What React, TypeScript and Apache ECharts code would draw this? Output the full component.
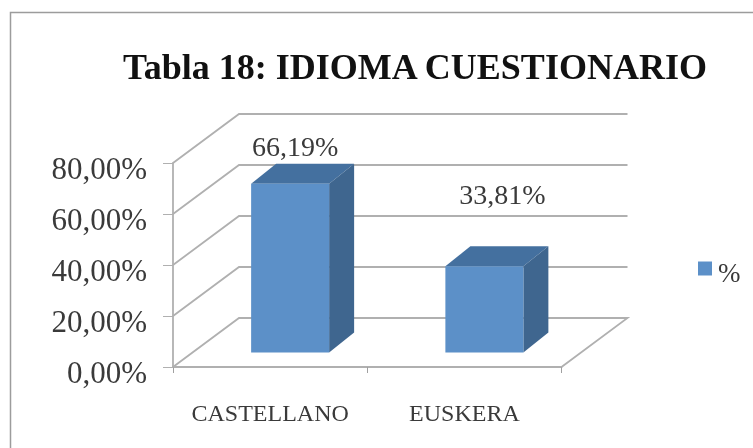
import React, { useEffect, useRef } from "react";
import * as echarts from "echarts";

const titleText = "Tabla 18: IDIOMA CUESTIONARIO";
const categories = ["CASTELLANO", "EUSKERA"];
const percentValues = [66.19, 33.81];
const yTickValues = [0, 20, 40, 60, 80];
const seriesName = "%";

const SERIF = "'Liberation Serif', serif";
const WALL_DX = 66;
const WALL_DY = 49;
const BAR_WIDTH = 78;
const BAR_DX = 25;
const BAR_DY = 20;
const FLOOR_DX = 20;
const FLOOR_DY = 14.5;
const LABEL_SHIFT = [[5, -37], [18, -72]];
const GRID_COLOR = "#b0b0b0";
const TEXT_COLOR = "#3a3a3a";
const fmt = (v: number) => v.toFixed(2).replace(".", ",") + "%";

function renderWall(params: any, api: any) {
  const cs = params.coordSys;
  const v = api.value(0);
  const y = api.coord([0, v])[1];
  const left = cs.x;
  const right = cs.x + cs.width;
  const pts = [[left, y], [left + WALL_DX, y - WALL_DY], [right + WALL_DX, y - WALL_DY]];
  if (v === 0) pts.push([right, y]);
  return {
    type: "polyline",
    silent: true,
    shape: { points: pts },
    style: { stroke: GRID_COLOR, lineWidth: 1.8, fill: "none" },
  };
}

function renderBar(params: any, api: any) {
  const i = api.value(0);
  const v = api.value(1);
  const c = api.coord([i, v]);
  const b = api.coord([i, 0]);
  const x0 = c[0] + FLOOR_DX - BAR_WIDTH / 2;
  const x1 = x0 + BAR_WIDTH;
  const yTop = c[1] - FLOOR_DY;
  const yBot = b[1] - FLOOR_DY;
  const shift = LABEL_SHIFT[params.dataIndex];
  return {
    type: "group",
    children: [
      {
        type: "polygon",
        shape: { points: [[x0, yTop], [x0 + BAR_DX, yTop - BAR_DY], [x1 + BAR_DX, yTop - BAR_DY], [x1, yTop]] },
        style: { fill: "#44709f" },
      },
      {
        type: "polygon",
        shape: { points: [[x1, yTop], [x1 + BAR_DX, yTop - BAR_DY], [x1 + BAR_DX, yBot - BAR_DY], [x1, yBot]] },
        style: { fill: "#3f668f" },
      },
      {
        type: "rect",
        shape: { x: x0, y: yTop, width: BAR_WIDTH, height: yBot - yTop },
        style: { fill: "#5c90c8" },
      },
      {
        type: "text",
        style: {
          x: (x0 + x1) / 2 + shift[0],
          y: yTop + shift[1],
          text: fmt(v),
          fill: TEXT_COLOR,
          font: `28px ${SERIF}`,
          align: "center",
          verticalAlign: "middle",
        },
      },
    ],
  };
}

export default function App() {
  const ref = useRef<HTMLDivElement>(null);
  useEffect(() => {
    const chart = echarts.init(ref.current!, undefined, { renderer: "svg" });
    chart.setOption({
      animation: false,
      backgroundColor: "#ffffff",
      title: {
        text: titleText,
        left: 410,
        top: 44,
        textAlign: "center",
        textStyle: { fontFamily: SERIF, fontWeight: "bold", fontSize: 36, color: "#111111" },
      },
      graphic: [
        {
          type: "polyline",
          silent: true,
          shape: { points: [[10.5, 448], [10.5, 12.5], [753, 12.5]] },
          style: { fill: "none", stroke: "#9c9c9c", lineWidth: 1.5 },
        },
      ],
      legend: {
        data: [seriesName],
        left: 693,
        top: 254.5,
        icon: "rect",
        itemWidth: 14,
        itemHeight: 14,
        itemGap: 6,
        formatter: (n: string) => `{a|${n}}`,
        textStyle: {
          rich: { a: { fontFamily: SERIF, fontSize: 27, color: TEXT_COLOR, padding: [9, 0, 0, 1] } },
        },
      },
      grid: { left: 173, top: 163, width: 388.5, height: 204, containLabel: false },
      xAxis: {
        type: "category",
        data: categories,
        axisLine: { lineStyle: { color: GRID_COLOR, width: 1.8 } },
        axisTick: { show: true, alignWithLabel: false, length: 6, lineStyle: { color: "#a0a0a0" } },
        axisLabel: { margin: 34, interval: 0, hideOverlap: false, fontFamily: SERIF, fontSize: 24, color: TEXT_COLOR },
      },
      yAxis: {
        type: "value",
        min: 0,
        max: 80,
        interval: 20,
        axisLine: { show: true, lineStyle: { color: GRID_COLOR, width: 1.8 } },
        axisTick: { show: true, length: 10, lineStyle: { color: GRID_COLOR } },
        splitLine: { show: false },
        axisLabel: {
          margin: 26,
          formatter: (v: number) => `{a|${fmt(v)}}`,
          rich: { a: { fontFamily: SERIF, fontSize: 31, color: TEXT_COLOR, padding: [11, 0, 0, 0] } },
        },
      },
      series: [
        {
          type: "custom",
          name: "walls",
          silent: true,
          renderItem: renderWall,
          data: yTickValues.map((v) => [v]),
          encode: { y: 0 },
          z: 1,
        },
        {
          type: "custom",
          name: seriesName,
          renderItem: renderBar,
          data: percentValues.map((v, i) => [i, v]),
          encode: { x: 0, y: 1 },
          itemStyle: { color: "#5c90c8" },
          z: 3,
        },
      ],
    });
    return () => chart.dispose();
  }, []);
  return <div ref={ref} style={{ position: "fixed", left: 0, top: 0, width: 753, height: 448, background: "#fff", filter: "blur(0.5px)" }} />;
}
